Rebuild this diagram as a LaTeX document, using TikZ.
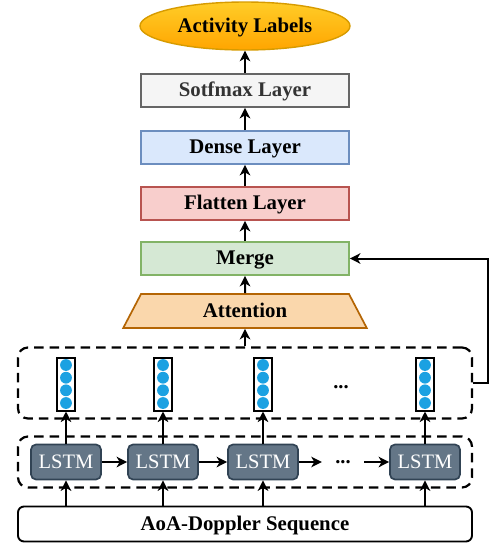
\documentclass[tikz,border=0pt]{standalone}
\usepackage{fontspec}
\setmainfont{Liberation Serif}
\usetikzlibrary{arrows.meta,shapes.geometric}
\definecolor{ellTop}{HTML}{FFCD28}
\definecolor{ellBot}{HTML}{FFA500}
\definecolor{ellLine}{HTML}{D79B00}
\definecolor{softFill}{HTML}{F5F5F5}
\definecolor{softLine}{HTML}{666666}
\definecolor{softText}{HTML}{333333}
\definecolor{denseFill}{HTML}{DAE8FC}
\definecolor{denseLine}{HTML}{6C8EBF}
\definecolor{flatFill}{HTML}{F8CECC}
\definecolor{flatLine}{HTML}{B85450}
\definecolor{mergeFill}{HTML}{D5E8D4}
\definecolor{mergeLine}{HTML}{82B366}
\definecolor{attFill}{HTML}{FAD7AC}
\definecolor{attLine}{HTML}{B46504}
\definecolor{lstmFill}{HTML}{647687}
\definecolor{lstmLine}{HTML}{314354}
\definecolor{dotBlue}{HTML}{1BA1E2}
\begin{document}
\begin{tikzpicture}[x=1pt,y=-1pt,
  font=\fontsize{20.5}{24}\selectfont,
  label text/.style={text height=14pt,text depth=1.5pt},
  arr/.style={line width=2pt,-{Stealth[length=10.5pt,width=10.5pt,inset=3pt]}},
  layer/.style={draw,line width=1.7pt,minimum width=208pt,minimum height=33pt,inner sep=0pt,
    label text,font=\fontsize{20.8}{24}\selectfont\bfseries},
  lstm/.style={draw=lstmLine,fill=lstmFill,line width=1.7pt,rounded corners=5pt,
    minimum width=70pt,minimum height=35pt,inner sep=0pt,text=white,label text},
  vecbox/.style={draw,fill=white,line width=2pt,minimum width=18pt,minimum height=53pt,inner sep=0pt},
  vdot/.style={circle,fill=dotBlue,minimum size=11.8pt,inner sep=0pt},
  group/.style={draw,dashed,dash pattern=on 9.5pt off 6pt,line width=2.2pt,rounded corners=10pt,
    minimum width=454pt,inner sep=0pt},
  dots/.style={font=\fontsize{20.5}{24}\selectfont\bfseries,inner sep=0pt}]
\useasboundingbox (0,0) rectangle (490,544);

% output and classifier stack
\node[ellipse,draw=ellLine,line width=1.4pt,top color=ellTop,bottom color=ellBot,
  minimum width=210pt,minimum height=48pt,inner sep=0pt,label text,
  font=\fontsize{20.8}{24}\selectfont\bfseries] (out) at (245,26) {Activity Labels};
\node[layer,draw=softLine,fill=softFill,text=softText] (soft) at (245,90.5) {Sotfmax Layer};
\node[layer,draw=denseLine,fill=denseFill] (dense) at (245,147.5) {Dense Layer};
\node[layer,draw=flatLine,fill=flatFill] (flat) at (245,203.5) {Flatten Layer};
\node[layer,draw=mergeLine,fill=mergeFill] (merge) at (245,258.5) {Merge};
\node[trapezium,trapezium stretches=true,trapezium left angle=65,trapezium right angle=65,
  draw=attLine,fill=attFill,line width=1.7pt,minimum width=244pt,minimum height=34pt,inner sep=0pt,
  label text,font=\fontsize{20.8}{24}\selectfont\bfseries] (att) at (245,311) {Attention};

% dashed groups
\node[group,minimum height=71pt] (hgroup) at (245,383) {};
\node[group,minimum height=51pt] (lgroup) at (245,462) {};

% input sequence
\node[draw,line width=1.9pt,rounded corners=6pt,minimum width=454pt,minimum height=35pt,inner sep=0pt,
  label text,font=\fontsize{20.8}{24}\selectfont\bfseries] (seq) at (245,524) {AoA-Doppler Sequence};

% LSTM cells and hidden-state vectors
\foreach \i/\x in {1/66,2/163,3/263,4/425}{
  \node[lstm] (l\i) at (\x,462) {LSTM};
  \node[vecbox] (v\i) at (\x,384) {};
  \foreach \j/\y in {1/365,2/377.7,3/390.3,4/403}{
    \node[vdot] (v\i d\j) at (\x,\y) {};
  }
  \draw[arr] (l\i |- seq.north) -- (l\i.south);
  \draw[arr] (l\i.north) -- (v\i.south);
}
\node[dots] (vdots) at (341,387) {...};
\node[dots,minimum width=42pt] (ldots) at (343,462) {...};

% recurrent chain
\draw[arr] (l1.east) -- (l2.west);
\draw[arr] (l2.east) -- (l3.west);
\draw[arr] (l3.east) -- (ldots.west);
\draw[arr] (ldots.east) -- (l4.west);

% upward flow
\draw[arr] (att.south |- hgroup.north) -- (att.south);
\draw[arr] (att.north) -- (merge.south);
\draw[arr] (merge.north) -- (flat.south);
\draw[arr] (flat.north) -- (dense.south);
\draw[arr] (dense.north) -- (soft.south);
\draw[arr] (soft.north) -- (out.south);

% skip connection into the merge
\coordinate (skip) at (488,383);
\draw[arr] (hgroup.east) -- (skip) |- (merge.east);
\end{tikzpicture}
\end{document}
